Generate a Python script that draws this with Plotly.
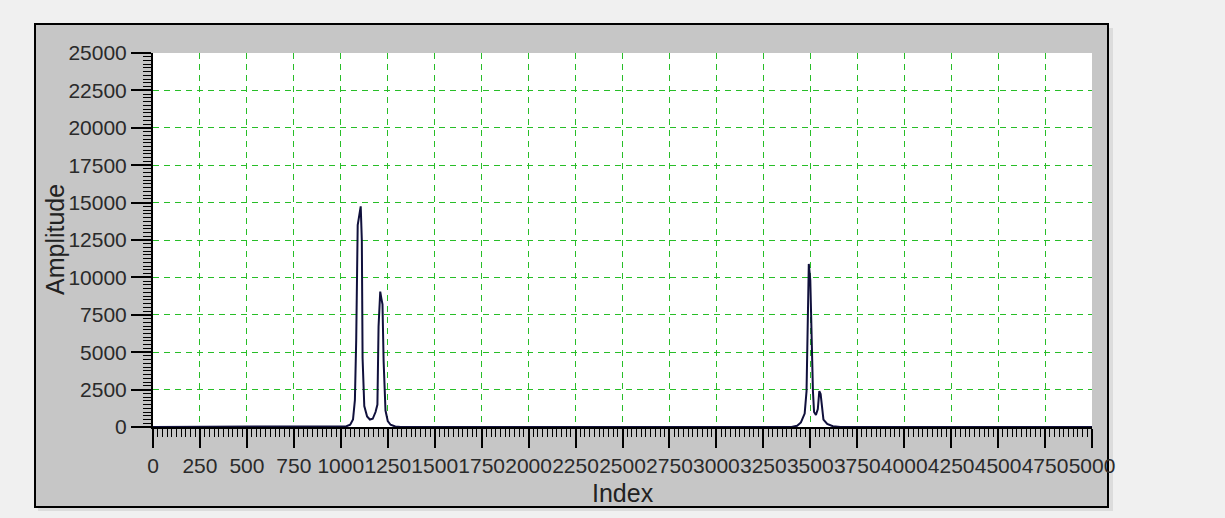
import plotly.graph_objects as go

# ---- data ----
index_values = [0, 1000, 1030, 1050, 1065, 1075, 1082, 1090, 1100, 1106, 1112, 1116, 1125,
                1140, 1155, 1170, 1185, 1195, 1201, 1210, 1216, 1222, 1228, 1238, 1250,
                1265, 1290, 1320,
                3400, 3430, 3450, 3470, 3480, 3487, 3492, 3500, 3508, 3514, 3520, 3530,
                3540, 3548, 3555, 3562, 3570, 3590, 3620, 3660, 5000]
amplitude_values = [0, 0, 50, 150, 500, 1800, 5800, 13500, 14200, 14750, 12500, 4600, 1400,
                    700, 500, 550, 1000, 1500, 6700, 9050, 8600, 8200, 4400, 1100, 400,
                    150, 30, 0,
                    0, 80, 300, 900, 2400, 8000, 10900, 9800, 4000, 2400, 1000, 800,
                    1200, 2400, 2200, 1300, 500, 200, 50, 0, 0]

x_range = [0, 5000]
y_range = [0, 25000]
x_major_step = 250
y_major_step = 2500
x_minor_step = 25
y_minor_step = 250

x_title = "Index"
y_title = "Amplitude"

# ---- layout geometry (pixels) ----
W, H = 1225, 518
L, R, T, B = 153, 133, 53, 91
pw, ph = W - L - R, H - T - B


def px_x(p):
    return (p - L) / pw


def px_y(p):
    return (H - B - p) / ph


FONT = "Liberation Sans, Arial, sans-serif"
GRID = "rgb(40,190,40)"

fig = go.Figure()
fig.add_trace(go.Scatter(
    x=index_values, y=amplitude_values, mode="lines",
    line=dict(color="#10103c", width=2), showlegend=False, hoverinfo="x+y",
))

axis_common = dict(
    showline=True, linecolor="black", linewidth=2,
    ticks="outside", tickcolor="black", tickwidth=1.5,
    showgrid=True, gridcolor=GRID, gridwidth=1.2, griddash="6px,5px",
    zeroline=False, tickfont=dict(family=FONT, size=21, color="#2a2a2a"),
    automargin=False, tickmode="linear", tick0=0, tickformat="d",
)

fig.update_xaxes(range=x_range, dtick=x_major_step, ticklen=19, tickangle=0,
                 minor=dict(dtick=x_minor_step, ticklen=8, ticks="outside",
                            tickcolor="black", tickwidth=1, showgrid=False),
                 **axis_common)
fig.update_yaxes(range=y_range, dtick=y_major_step, ticklen=20,
                 minor=dict(dtick=y_minor_step, ticklen=8, ticks="outside",
                            tickcolor="black", tickwidth=1, showgrid=False),
                 **axis_common)

shapes = [
    # shadow of the panel
    dict(type="rect", xref="paper", yref="paper", layer="below",
         x0=px_x(38), x1=px_x(1113), y0=px_y(511), y1=px_y(28),
         fillcolor="#dcdcdc", line=dict(width=0)),
    # gray panel with black border
    dict(type="rect", xref="paper", yref="paper", layer="below",
         x0=px_x(35), x1=px_x(1108), y0=px_y(507), y1=px_y(24),
         fillcolor="#c6c6c6", line=dict(color="black", width=2)),
    # white plotting area
    dict(type="rect", xref="paper", yref="paper", layer="below",
         x0=0, x1=1, y0=0, y1=1, fillcolor="white", line=dict(width=0)),
]

annotations = [
    dict(text=y_title, xref="paper", yref="paper", x=px_x(55), y=px_y(240),
         textangle=-90, showarrow=False, xanchor="center", yanchor="middle",
         font=dict(family=FONT, size=25, color="#222")),
    dict(text=x_title, xref="paper", yref="paper", x=0.5, y=px_y(493),
         showarrow=False, xanchor="center", yanchor="middle",
         font=dict(family=FONT, size=25, color="#222")),
]

fig.update_layout(
    width=W, height=H, autosize=False,
    margin=dict(l=L, r=R, t=T, b=B, pad=0),
    paper_bgcolor="#f0f0f0", plot_bgcolor="white",
    shapes=shapes, annotations=annotations,
    showlegend=False,
)

fig.write_html(
    "out.html",
    config={"displayModeBar": False},
    post_script="document.body.style.margin='0';document.body.style.background='#f0f0f0';document.body.style.overflow='hidden';",
)
